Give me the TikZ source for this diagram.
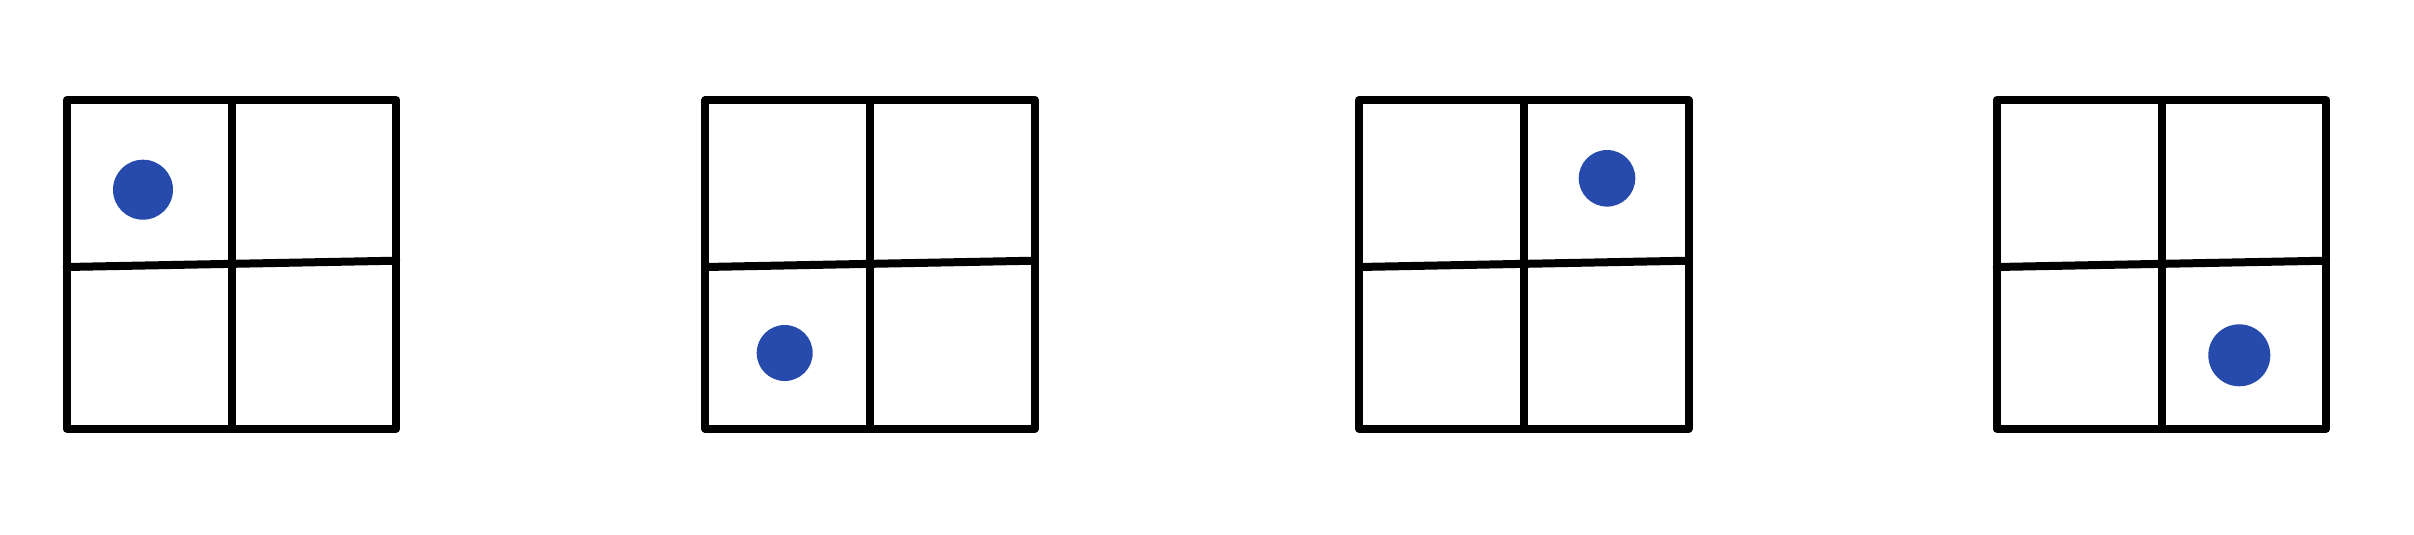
\documentclass[tikz,border=0pt]{standalone}
\definecolor{dotblue}{RGB}{39,75,173}
\tikzset{
  gridline/.style={line width=4pt, line join=round, line cap=round, draw=black},
  token/.style={fill=dotblue, draw=none},
  pics/quad/.style={code={
    \draw[gridline] (0,0) rectangle (329.5,328.7);
    \draw[gridline] (165,0) -- (165,328.7);
    \draw[gridline] (0,167) -- (329.5,160.7);
  }}
}
\begin{document}
\begin{tikzpicture}[x=0.5pt,y=-0.5pt]
\useasboundingbox (0,0) rectangle (2414,535);
\pic at (66.7,100) {quad};
\pic at (705.3,100) {quad};
\pic at (1359.0,100) {quad};
\pic at (1996.7,100) {quad};
\fill[token] (143,189.7) circle (30);
\fill[token] (784.7,353) circle (28);
\fill[token] (1607,178.3) circle (28.3);
\fill[token] (2239.3,355.3) circle (31);
\end{tikzpicture}
\end{document}
